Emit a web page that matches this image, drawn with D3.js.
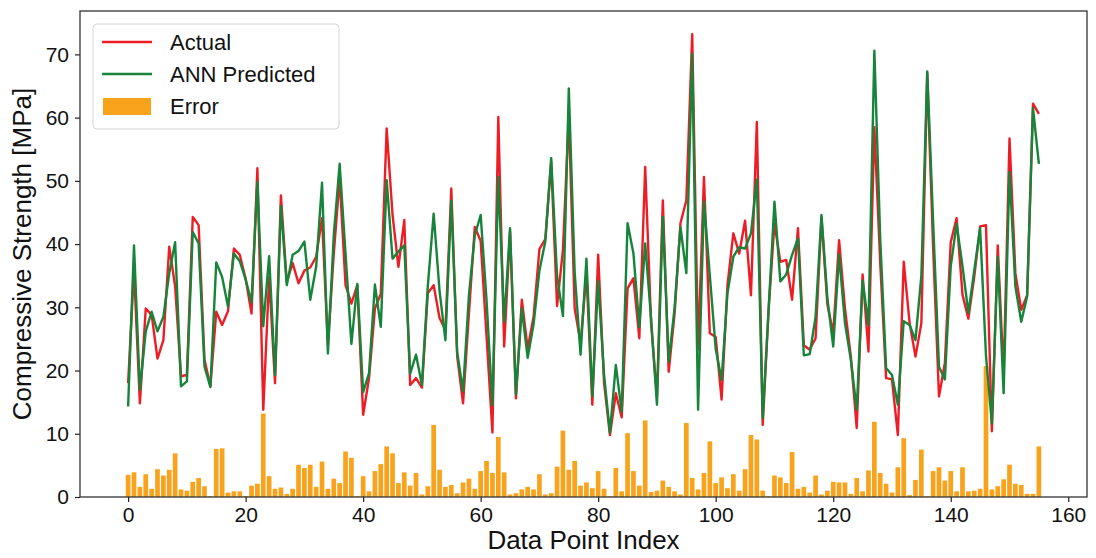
<!DOCTYPE html>
<html>
<head>
<meta charset="utf-8">
<script src="https://cdn.jsdelivr.net/npm/d3@7"></script>
<style>
  html, body { margin: 0; padding: 0; background: #fff; overflow: hidden; }
  svg { display: block; font-family: "Liberation Sans", Arial, sans-serif; }
</style>
</head>
<body>
<div id="chart"></div>
<script>
// values, index 0..155
const actual = [
  18.0, 36.0, 14.8, 29.8, 28.8, 21.9, 24.8, 39.6, 33.3, 19.1,
  19.3, 44.3, 43.0, 21.7, 17.5, 29.3, 27.2, 29.4, 39.3, 38.3,
  34.5, 29.0, 52.0, 13.8, 34.8, 18.0, 47.7, 34.0, 37.0, 33.8,
  35.8, 36.3, 38.0, 44.1, 24.0, 38.5, 50.4, 33.5, 30.6, 33.5,
  13.0, 18.8, 29.8, 32.1, 58.3, 44.6, 36.4, 43.8, 17.7, 18.8,
  17.3, 32.2, 33.5, 28.3, 26.4, 48.8, 22.3, 14.8, 29.0, 42.7,
  40.5, 25.4, 10.2, 60.1, 23.8, 42.0, 15.6, 31.2, 23.5, 28.5,
  39.2, 40.8, 53.0, 30.2, 39.1, 60.3, 29.8, 24.3, 35.4, 14.6,
  38.3, 18.0, 9.8, 16.4, 12.6, 33.0, 34.6, 25.1, 52.2, 27.5,
  15.8, 46.9, 19.8, 29.0, 43.3, 46.9, 73.2, 23.3, 50.6, 25.9,
  25.3, 15.4, 33.5, 41.7, 38.5, 43.7, 31.9, 59.3, 11.4, 29.6,
  43.3, 37.2, 37.5, 31.2, 42.5, 24.0, 23.3, 25.1, 44.2, 30.5,
  25.9, 40.6, 29.8, 22.2, 10.9, 35.2, 23.0, 58.5, 37.0, 18.8,
  18.6, 9.8, 37.2, 27.5, 22.2, 27.5, 67.0, 39.5, 15.9, 21.2,
  40.3, 44.1, 32.0, 28.2, 34.8, 42.8, 43.0, 10.4, 39.8, 19.2,
  56.7, 35.4, 29.6, 31.9, 62.2, 60.6
]
const predicted = [
  14.3, 39.8, 16.9, 26.2, 29.3, 26.2, 28.5, 35.4, 40.3, 17.5,
  18.3, 41.9, 40.1, 20.6, 17.4, 37.1, 34.8, 30.1, 38.5, 37.3,
  34.4, 30.8, 49.8, 27.0, 38.1, 19.3, 46.0, 33.5, 38.3, 38.9,
  40.4, 31.2, 36.4, 49.7, 22.7, 41.4, 52.7, 38.5, 24.2, 33.7,
  16.6, 19.6, 33.6, 26.9, 50.1, 37.7, 38.8, 39.8, 19.5, 22.5,
  17.7, 33.3, 44.8, 32.6, 24.8, 46.9, 22.9, 16.7, 31.9, 41.4,
  44.6, 31.1, 14.5, 50.6, 27.7, 42.5, 16.2, 29.8, 22.0, 27.3,
  35.8, 40.4, 53.6, 35.0, 28.6, 64.6, 35.5, 22.5, 37.7, 15.9,
  34.1, 19.3, 10.2, 20.9, 13.5, 43.3, 38.5, 26.9, 40.1, 28.3,
  14.6, 44.3, 21.4, 29.9, 42.7, 35.4, 70.1, 13.8, 46.7, 35.0,
  23.4, 18.5, 32.2, 38.0, 39.5, 39.3, 41.7, 50.2, 12.5, 29.6,
  46.7, 34.1, 35.2, 38.3, 40.9, 22.4, 22.6, 28.5, 44.6, 31.5,
  23.8, 38.3, 27.5, 21.7, 13.8, 34.2, 27.2, 70.6, 40.8, 20.4,
  19.3, 14.6, 27.8, 27.2, 24.8, 35.0, 67.3, 43.6, 20.6, 18.6,
  36.5, 43.2, 36.5, 29.1, 35.8, 42.5, 22.3, 11.6, 38.0, 16.4,
  51.4, 33.3, 27.7, 31.7, 61.5, 52.7
]
const errors = [
  3.5, 3.9, 1.6, 3.6, 1.3, 4.4, 3.4, 4.3, 6.9, 1.2,
  1.0, 2.4, 3.0, 1.7, 0.1, 7.6, 7.7, 0.7, 0.9, 0.9,
  0.1, 1.8, 2.1, 13.2, 3.3, 1.3, 1.5, 0.5, 1.3, 5.1,
  4.6, 5.1, 1.6, 5.6, 1.3, 2.9, 2.2, 7.2, 6.2, 0.1,
  3.3, 0.9, 4.1, 5.2, 8.0, 6.9, 2.2, 3.9, 1.8, 3.8,
  0.4, 1.7, 11.4, 4.3, 1.6, 1.9, 0.6, 2.3, 2.9, 1.3,
  4.1, 5.7, 3.8, 9.5, 3.9, 0.4, 0.6, 1.2, 1.6, 1.2,
  3.6, 0.4, 0.6, 4.8, 10.5, 4.3, 5.7, 1.8, 2.3, 1.4,
  4.1, 1.3, 0.1, 4.6, 0.9, 10.1, 4.1, 1.8, 12.1, 0.8,
  1.0, 2.6, 1.6, 0.9, 0.4, 11.7, 3.0, 1.2, 3.8, 8.8,
  2.2, 3.1, 1.4, 3.6, 1.0, 4.4, 9.8, 9.1, 1.0, 0.1,
  3.4, 3.1, 2.2, 7.1, 1.3, 1.6, 0.7, 3.4, 0.4, 1.0,
  2.4, 2.3, 2.3, 0.5, 3.0, 0.9, 4.2, 11.9, 3.8, 2.1,
  0.7, 4.7, 9.3, 0.3, 2.7, 7.5, 0.1, 4.1, 4.7, 2.6,
  4.1, 0.9, 4.7, 0.9, 1.0, 1.3, 20.7, 1.2, 1.7, 2.8,
  5.1, 2.1, 1.9, 0.5, 0.5, 8.0
]
const xTicks = [0, 20, 40, 60, 80, 100, 120, 140, 160]
const yTicks = [0, 10, 20, 30, 40, 50, 60, 70]

const width = 1096
const height = 558
const margin = { top: 11, right: 9, bottom: 61, left: 80 }
const innerWidth = width - margin.left - margin.right
const innerHeight = height - margin.top - margin.bottom

const svg = d3.select('#chart')
  .append('svg')
  .attr('width', width)
  .attr('height', height)

const g = svg.append('g')
  .attr('transform', `translate(${margin.left}, ${margin.top})`)

const idx = d3.range(actual.length)

// x: matplotlib-style 5% padding around bar edges
const x = d3.scaleLinear()
  .domain([-8.19, 163.19])
  .range([0, innerWidth])

const y = d3.scaleLinear()
  .domain([0, 76.86])
  .range([innerHeight, 0])

const barW = x(0.8) - x(0)

// error bars
g.selectAll('rect.err')
  .data(idx)
  .join('rect')
  .attr('class', 'err')
  .attr('x', i => x(i - 0.4))
  .attr('y', i => y(errors[i]))
  .attr('width', barW)
  .attr('height', i => innerHeight - y(errors[i]))
  .attr('fill', '#f9a31d')

const line = d3.line()
  .x(d => x(d[0]))
  .y(d => y(d[1]))

g.append('path')
  .datum(idx.map(i => [i, actual[i]]))
  .attr('d', line)
  .attr('fill', 'none')
  .attr('stroke', '#ee1d25')
  .attr('stroke-width', 2.4)
  .attr('stroke-linejoin', 'round')

g.append('path')
  .datum(idx.map(i => [i, predicted[i]]))
  .attr('d', line)
  .attr('fill', 'none')
  .attr('stroke', '#16843a')
  .attr('stroke-width', 2.4)
  .attr('stroke-linejoin', 'round')

// axes
const xAxis = g.append('g')
  .attr('transform', `translate(0, ${innerHeight})`)
  .call(d3.axisBottom(x).tickValues(xTicks).tickSize(5).tickPadding(5))
const yAxis = g.append('g')
  .call(d3.axisLeft(y).tickValues(yTicks).tickSize(5).tickPadding(6))

for (const ax of [xAxis, yAxis]) {
  ax.select('.domain').remove()
  ax.selectAll('line').attr('stroke', '#222').attr('stroke-width', 1.2)
  ax.selectAll('text')
    .attr('fill', '#111')
    .style('font-size', '21px')
    .style('font-family', '"Liberation Sans", Arial, sans-serif')
}

// frame
g.append('rect')
  .attr('width', innerWidth)
  .attr('height', innerHeight)
  .attr('fill', 'none')
  .attr('stroke', '#333')
  .attr('stroke-width', 1.3)

// titles
svg.append('text')
  .attr('x', margin.left + innerWidth / 2)
  .attr('y', 549)
  .attr('text-anchor', 'middle')
  .attr('fill', '#111')
  .style('font-size', '26px')
  .text('Data Point Index')

svg.append('text')
  .attr('transform', `translate(31, ${margin.top + innerHeight / 2}) rotate(-90)`)
  .attr('text-anchor', 'middle')
  .attr('fill', '#111')
  .style('font-size', '26px')
  .text('Compressive Strength [MPa]')

// legend
const legend = svg.append('g').attr('transform', 'translate(93, 24)')
legend.append('rect')
  .attr('width', 246)
  .attr('height', 105)
  .attr('rx', 4)
  .attr('fill', 'rgba(255,255,255,0.85)')
  .attr('stroke', '#d4d4d4')

const items = [
  { label: 'Actual', color: '#ee1d25', type: 'line' },
  { label: 'ANN Predicted', color: '#16843a', type: 'line' },
  { label: 'Error', color: '#f9a31d', type: 'bar' }
]
items.forEach((it, k) => {
  const cy = 18 + k * 32
  if (it.type === 'line') {
    legend.append('line')
      .attr('x1', 9).attr('x2', 59)
      .attr('y1', cy).attr('y2', cy)
      .attr('stroke', it.color)
      .attr('stroke-width', 2.4)
  } else {
    legend.append('rect')
      .attr('x', 10).attr('y', cy - 8)
      .attr('width', 48).attr('height', 17)
      .attr('fill', it.color)
  }
  legend.append('text')
    .attr('x', 77)
    .attr('y', cy + 8)
    .attr('fill', '#111')
    .style('font-size', '22px')
    .text(it.label)
})
</script>
</body>
</html>
